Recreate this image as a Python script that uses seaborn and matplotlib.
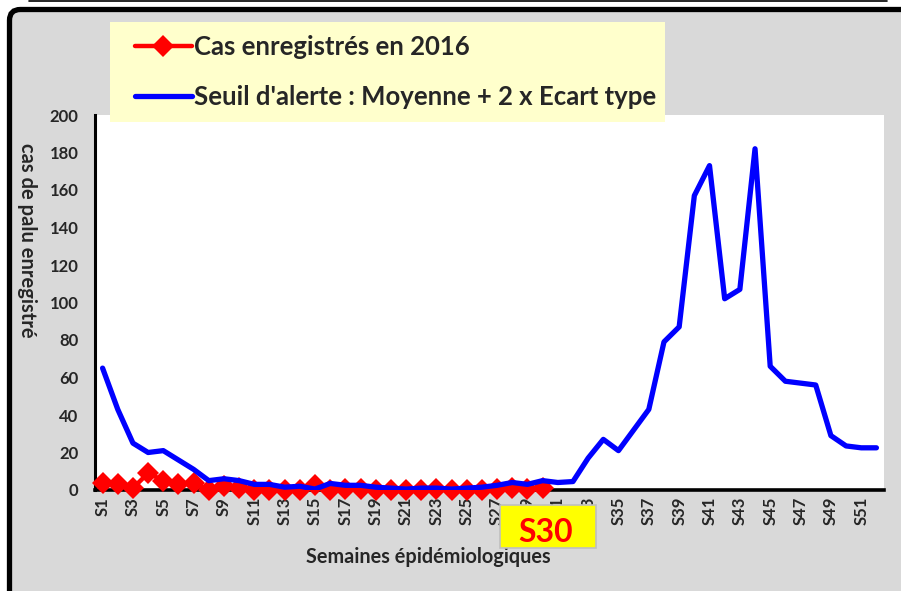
import pandas as pd
import seaborn as sns
import matplotlib.pyplot as plt
from matplotlib.patches import Rectangle, FancyBboxPatch
from matplotlib.lines import Line2D

# data
weeks = list(range(1, 53))
seuil = [65, 43, 25, 20, 21, 16, 11, 5, 6, 5, 3, 3, 1.5, 2, 0.5, 3.5, 2.5, 2.5, 1.5, 1,
         0.5, 1, 1, 0.5, 1, 1.5, 2.5, 4, 3, 5, 4, 4.5, 17, 27, 21, 32, 43, 79, 87, 157,
         173, 102, 107, 182, 66, 58, 57, 56, 29, 23.5, 22.5, 22.5]
cas_2016 = [3.5, 3, 1, 9, 5, 3, 3.5, 0, 2, 1, 0, 0, 0, 0, 2.5, 0, 0.5, 0.5, 0, 0,
            0, 0, 0.5, 0, 0, 0, 0.5, 1, 0.5, 1]
tick_weeks = list(range(1, 53, 2))
tick_labels = ['S' + str(w) for w in tick_weeks]
label_cas = 'Cas enregistrés en 2016'
label_seuil = "Seuil d'alerte : Moyenne + 2 x Ecart type"

df_seuil = pd.DataFrame({'semaine': weeks, 'valeur': seuil})
df_cas = pd.DataFrame({'semaine': weeks[:len(cas_2016)], 'valeur': cas_2016})

sns.set_style('white')
plt.rcParams['font.family'] = ['Lato', 'DejaVu Sans']
plt.rcParams['font.weight'] = 'bold'

W, H = 901, 591
fig = plt.figure(figsize=(W / 100, H / 100), dpi=100)
fig.patch.set_facecolor('white')

# grey frame with black rounded border (bottom and right run off the picture)
frame = FancyBboxPatch((9.5 / W, -0.1), 1.2, (1 - 9.5 / H) + 0.1,
                       boxstyle='round,pad=0,rounding_size=0.012', mutation_aspect=W / H,
                       transform=fig.transFigure, facecolor='#d9d9d9', edgecolor='black',
                       linewidth=3.8, zorder=-2)
fig.add_artist(frame)
fig.add_artist(Line2D([29 / W, 887 / W], [1 - 1 / H, 1 - 1 / H], transform=fig.transFigure,
                      color='black', linewidth=1.2))

ax = fig.add_axes([95 / W, 1 - 490 / H, 789 / W, 375 / H])
ax.set_facecolor('white')

sns.lineplot(data=df_cas, x='semaine', y='valeur', ax=ax, color='#ff0000', linewidth=3.2,
             marker='D', markersize=11, markeredgewidth=0, clip_on=False, zorder=3,
             label=label_cas)
sns.lineplot(data=df_seuil, x='semaine', y='valeur', ax=ax, color='#0000ff', linewidth=3.8,
             solid_capstyle='round', solid_joinstyle='round', zorder=4, label=label_seuil)

ax.set_xlim(0.5, 52.5)
ax.set_ylim(0, 200)
ax.set_yticks(range(0, 201, 20))
ax.set_xticks(tick_weeks)
ax.set_xticklabels(tick_labels, rotation=90)
ax.tick_params(axis='both', length=0, labelsize=12)
ax.tick_params(axis='y', pad=12)
ax.tick_params(axis='x', pad=5)
for lab in ax.get_xticklabels() + ax.get_yticklabels():
    lab.set_fontweight('bold')

for side in ['top', 'right']:
    ax.spines[side].set_visible(False)
ax.spines['left'].set_linewidth(2.2)
ax.spines['bottom'].set_linewidth(2.6)
ax.spines['left'].set_color('black')
ax.spines['bottom'].set_color('black')

ax.set_xlabel('Semaines épidémiologiques', fontsize=14.3, fontweight='bold', va='center')
ax.xaxis.set_label_coords((428 - 95) / 789, (490 - 557) / 375)
ax.set_ylabel('cas de palu enregistré', fontsize=14.5, fontweight='bold', rotation=270,
              va='center', ha='center')
ax.yaxis.set_label_coords((27 - 95) / 789, (490 - 240) / 375)

# legend on a light yellow panel
handles, labels = ax.get_legend_handles_labels()
ax.get_legend().remove()
fig.add_artist(Rectangle((110 / W, 1 - 122 / H), 555 / W, 100 / H, transform=fig.transFigure,
                         facecolor='#ffffcc', edgecolor='none', zorder=1))
leg = fig.legend(handles, labels, loc='upper left', bbox_to_anchor=(135 / W, 1 - 35 / H),
                 frameon=False, borderpad=0, borderaxespad=0, handlelength=2.2,
                 handletextpad=0.08, labelspacing=1.0,
                 prop={'family': ['Lato', 'DejaVu Sans'], 'weight': 'bold', 'size': 18.5})
leg.set_zorder(2)

# S30 marker box
fig.add_artist(Rectangle((500 / W, 1 - 548 / H), 96 / W, 43 / H, transform=fig.transFigure,
                         facecolor='#ffff00', edgecolor='#bfbfbf', linewidth=1.2, zorder=5))
fig.text(546 / W, 1 - 533 / H, 'S30', color='#ff0000', fontsize=23, fontweight='bold',
         ha='center', va='center', zorder=6)

fig.savefig('out.png', dpi=100)
